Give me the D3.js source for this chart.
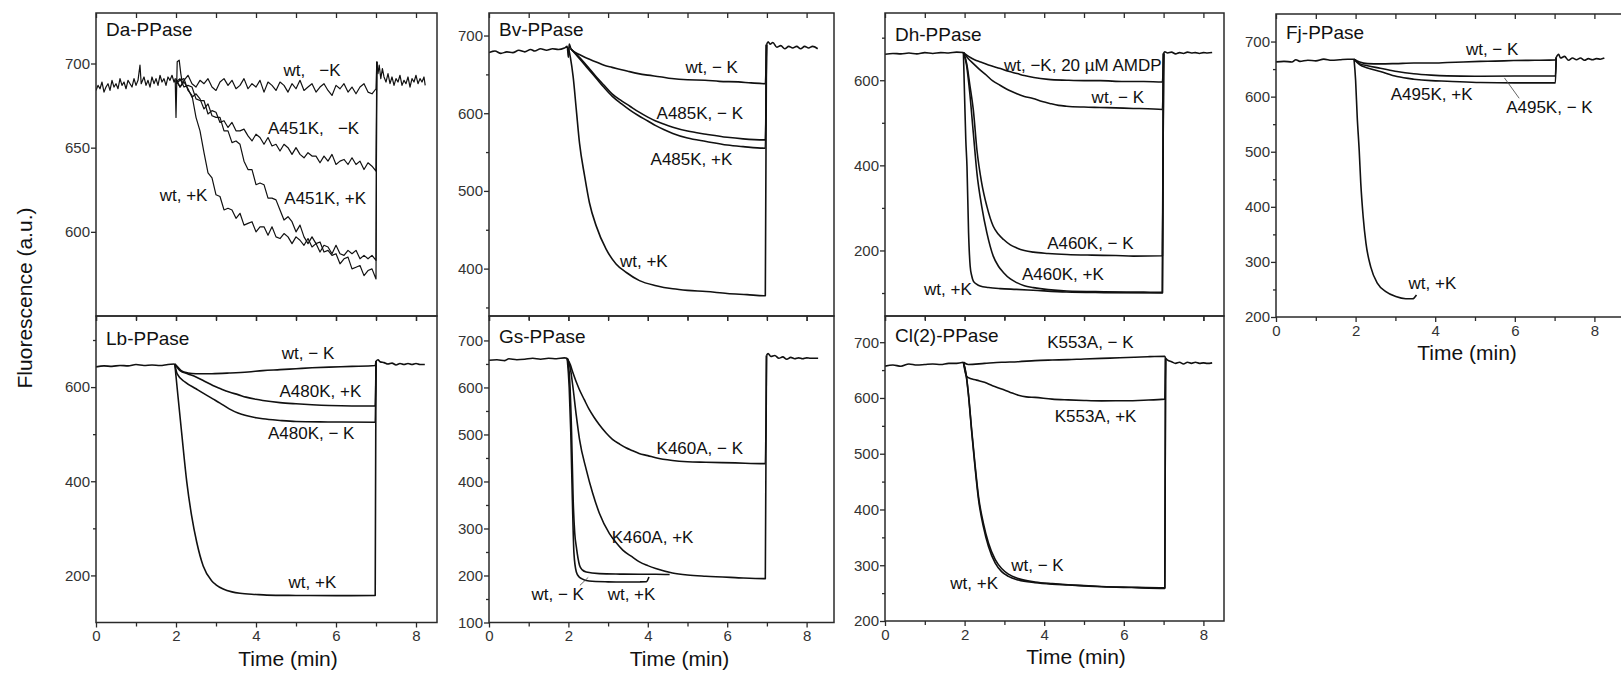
<!DOCTYPE html>
<html><head><meta charset="utf-8">
<script src="https://cdn.jsdelivr.net/npm/d3@7"></script>
<style>
body{margin:0;background:#fff;}
svg{display:block;font-family:"Liberation Sans",Arial,Helvetica,sans-serif;}
</style></head><body>
<svg id="chart" width="1621" height="675"></svg>
<script>
// ---------------- DATA (time in min, fluorescence in a.u.) ----------------
const xMajorTicks = [0, 2, 4, 6, 8];
const xMinorTicks = [1, 3, 5, 7];

// Da-PPase (noisy traces sampled every 0.1 min)
const daTimes = [2.0,2.1,2.2,2.3,2.4,2.5,2.6,2.7,2.8,2.9,3.0,3.1,3.2,3.3,3.4,3.5,3.6,3.7,3.8,3.9,4.0,4.1,4.2,4.3,4.4,4.5,4.6,4.7,4.8,4.9,5.0,5.1,5.2,5.3,5.4,5.5,5.6,5.7,5.8,5.9,6.0,6.1,6.2,6.3,6.4,6.5,6.6,6.7,6.8,6.9,7.0];
const daWtMinusK = [691,686,690,693,688,686,690,688,691,686,684,689,691,687,690,685,687,691,685,688,686,690,683,689,687,684,689,687,683,688,685,690,684,686,688,683,686,688,684,681,687,685,688,683,686,682,686,688,683,682,685];
const daA451KMinusK = [689,691,686,687,686,679,678,678,670,672,671,665,666,662,665,660,660,661,657,654,658,656,652,656,651,652,648,652,650,646,650,646,644,647,645,645,641,645,642,646,640,642,643,640,644,640,642,637,641,639,636];
const daA451KPlusK = [690,686,689,685,680,682,679,673,676,669,668,668,660,660,653,654,652,642,637,637,628,629,628,620,620,619,613,607,609,606,600,604,597,593,597,593,594,588,589,586,587,581,584,585,578,579,580,574,577,578,572];
const daWtPlusK = [688,690,691,684,681,668,660,647,635,632,622,621,613,614,613,608,611,604,605,606,600,603,603,598,603,597,596,599,597,593,597,595,592,596,591,593,588,592,591,587,592,587,586,589,587,589,584,586,584,586,583];
const daBase = [[0,684],[0.05,687],[0.1,685],[0.15,689],[0.2,683],[0.25,686],[0.3,688],[0.35,684],[0.4,690],[0.45,686],[0.5,688],[0.55,685],[0.6,691],[0.65,687],[0.7,689],[0.75,685],[0.8,690],[0.85,688],[0.9,686],[0.95,691],[1.0,687],[1.05,690],[1.1,699],[1.13,688],[1.2,692],[1.25,687],[1.3,690],[1.35,686],[1.4,692],[1.45,688],[1.5,691],[1.55,687],[1.6,693],[1.65,689],[1.7,691],[1.75,687],[1.8,692],[1.85,690],[1.9,693],[1.95,689],[1.98,691],[2.0,668],[2.03,701],[2.08,702],[2.12,694],[2.16,688]];
const daPost = [[7.02,701],[7.05,694],[7.08,699],[7.12,691],[7.16,697],[7.2,692],[7.25,689],[7.3,694],[7.35,688],[7.4,692],[7.45,687],[7.5,691],[7.55,689],[7.6,693],[7.65,687],[7.7,690],[7.75,688],[7.8,692],[7.85,686],[7.9,691],[7.95,689],[8.0,693],[8.05,688],[8.1,691],[8.15,689],[8.2,692],[8.23,687]];
const daLabels = [{text:"wt,   \u2212K",t:5.4,v:696},{text:"A451K,   \u2212K",t:5.44,v:661.7},{text:"A451K, +K",t:5.73,v:620},{text:"wt, +K",t:2.19,v:622}];

// Bv-PPase
const bvBase = [[0,678],[0.15,680],[0.3,677],[0.45,679],[0.6,678],[0.75,681],[0.9,679],[1.05,682],[1.15,680],[1.3,683],[1.45,681],[1.6,683],[1.75,682],[1.9,684],[1.97,686],[2.0,672],[2.02,689],[2.06,683]];
const bvWtMinusK = [[2.06,683],[2.12,680],[2.3,675],[2.5,670],[2.7,666],[2.9,661.6],[3.1,659],[3.34,656],[3.5,654],[3.76,651],[4.0,649],[4.3,647],[4.6,644.6],[5.0,643],[5.44,642.5],[5.8,641],[6.28,640.3],[6.6,639],[6.96,638]];
const bvA485KMinusK = [[2.06,683],[2.2,676],[2.45,662],[2.7,647],[2.9,636],[3.1,625],[3.34,616],[3.55,609],[3.76,602],[4.0,595],[4.2,590],[4.4,586],[4.63,582],[5.0,577],[5.47,573],[6.0,569],[6.4,567],[6.96,565.7]];
const bvA485KPlusK = [[2.06,683],[2.2,675],[2.45,660],[2.7,645],[2.9,633],[3.1,622],[3.34,612],[3.55,604],[3.76,597],[4.0,590],[4.2,584],[4.4,579],[4.63,574],[5.0,568],[5.47,563.6],[6.0,559],[6.4,557],[6.96,555]];
const bvWtPlusK = [[2.0,684],[2.05,672],[2.12,646.7],[2.2,604],[2.28,561.5],[2.41,518.8],[2.53,484.8],[2.7,455],[2.95,425],[3.2,406],[3.46,395],[3.79,384.5],[4.21,378],[4.63,374],[5.0,372],[5.47,370.5],[6.0,368],[6.5,366.5],[6.96,365]];
const bvPost = [[6.99,688],[7.03,692],[7.08,689],[7.15,691],[7.25,685],[7.35,687],[7.45,683],[7.55,686],[7.65,684],[7.75,686],[7.85,683],[7.95,686],[8.05,684],[8.15,686],[8.28,683]];
const bvLabels = [{text:"wt, \u2212 K",t:5.61,v:659.5},{text:"A485K, \u2212 K",t:5.31,v:600.6},{text:"A485K, +K",t:5.1,v:541},{text:"wt, +K",t:3.9,v:410}];

// Dh-PPase
const dhBase = [[0,661],[0.2,663],[0.4,662],[0.6,664],[0.8,662],[1.0,665],[1.2,663],[1.4,665],[1.6,664],[1.8,666],[1.97,665]];
const dhWtMinusKAMDP = [[1.97,665],[2.1,656],[2.25,648],[2.4,642.8],[2.6,636],[2.9,627.4],[3.1,621],[3.32,615.7],[3.5,611],[3.74,606.3],[4.1,602],[4.57,600],[5.0,599],[5.41,599],[6.0,597],[6.5,597],[6.97,596]];
const dhWtMinusK = [[1.97,665],[2.1,650],[2.22,639],[2.38,625],[2.55,611.7],[2.7,599],[2.89,588.3],[3.1,577],[3.3,568.8],[3.5,562],[3.72,557],[3.95,550],[4.14,545.5],[4.36,541],[4.56,539],[5.0,537],[5.4,536],[5.8,535],[6.24,533.7],[6.6,533],[6.97,531.4]];
const dhA460KMinusK = [[1.97,665],[2.05,640],[2.13,590],[2.22,529.8],[2.31,436],[2.43,358.4],[2.56,303.6],[2.72,256.8],[2.85,238],[2.98,225.7],[3.15,213],[3.31,206],[3.5,200],[3.73,196],[4.1,193],[4.57,190.6],[5.2,189],[5.8,188],[6.24,186.7],[6.97,187.5]];
const dhA460KPlusK = [[1.97,665],[2.05,635],[2.13,570],[2.22,475],[2.31,381.8],[2.43,303.6],[2.56,241.4],[2.72,186.7],[2.85,163],[2.98,147.8],[3.15,133],[3.31,124.4],[3.5,117],[3.73,112.7],[4.1,108],[4.57,104.8],[5.5,103],[6.5,102],[6.97,101.5]];
const dhWtPlusK = [[1.97,665],[2.0,560],[2.03,460],[2.06,397],[2.1,241],[2.14,163],[2.18,140],[2.22,128],[2.3,121],[2.39,116.5],[2.6,113],[2.89,110.4],[3.3,108.5],[3.72,106.5],[4.56,102.5],[5.5,101],[6.97,100]];
const dhPost = [[7.0,663],[7.03,667],[7.1,664],[7.2,666],[7.3,662],[7.4,665],[7.5,663],[7.6,666],[7.7,664],[7.8,665],[7.9,663],[8.0,665],[8.1,664],[8.22,665]];
const dhLabels = [{text:"wt, \u2212K, 20 \u00B5M AMDP",t:4.97,v:635},{text:"wt, \u2212 K",t:5.85,v:559.5},{text:"A460K, \u2212 K",t:5.16,v:218},{text:"A460K, +K",t:4.47,v:143.9},{text:"wt, +K",t:1.58,v:108.8}];

// Fj-PPase
const fjBase = [[0,663],[0.2,664],[0.4,663],[0.5,667],[0.6,664],[0.8,666],[1.0,665],[1.2,668],[1.4,666],[1.6,667],[1.8,668],[1.96,668]];
const fjWtMinusK = [[1.96,668],[2.1,663],[2.3,660],[2.62,659.5],[3.0,660],[3.46,661],[3.9,661],[4.3,661.9],[4.7,663],[5.13,664],[5.5,664.5],[5.97,665.5],[6.5,666],[7.02,666.8]];
const fjA495KMinusK = [[1.96,668],[2.1,660],[2.3,656],[2.62,651.6],[3.04,645.5],[3.46,641.4],[3.9,639],[4.3,637.7],[5.0,637],[6.0,637.5],[7.02,637.7]];
const fjA495KPlusK = [[1.96,668],[2.1,658],[2.3,652],[2.62,645.5],[3.04,636.4],[3.46,631.7],[3.9,629],[4.3,628],[5.13,625.6],[6.0,625],[7.02,625]];
const fjWtPlusK = [[1.96,668],[2.0,630],[2.04,564],[2.09,503],[2.13,443],[2.19,382],[2.26,334],[2.38,291],[2.55,261],[2.76,246],[3.01,237],[3.26,233],[3.43,233],[3.53,240]];
const fjPost = [[7.04,671],[7.1,677],[7.15,670],[7.25,673],[7.35,666],[7.45,670],[7.55,667],[7.65,670],[7.75,666],[7.85,669],[7.95,667],[8.05,669],[8.15,668],[8.25,670]];
const fjLabels = [{text:"wt, \u2212 K",t:5.43,v:686},{text:"A495K, +K",t:3.91,v:605},{text:"A495K, \u2212 K",t:6.87,v:581},{text:"wt, +K",t:3.93,v:262}];
const fjLeader = [[5.74,634],[6.11,597]];

// Lb-PPase
const lbBase = [[0,643],[0.2,645],[0.4,644],[0.6,646],[0.8,645],[1.0,648],[1.2,646],[1.4,647],[1.6,646],[1.8,648],[1.97,649]];
const lbWtMinusK = [[1.97,649],[2.05,642],[2.13,635],[2.3,630],[2.5,628.3],[2.9,628.5],[3.33,629.8],[3.8,632],[4.17,635],[4.6,637],[5.0,639],[5.4,641],[5.83,642.5],[6.4,644],[6.98,646]];
const lbA480KPlusK = [[1.97,649],[2.1,635],[2.3,628],[2.5,621.3],[2.7,613],[2.92,603.4],[3.1,597],[3.33,589.4],[3.55,584],[3.75,578.7],[4.0,574],[4.17,571.5],[4.6,567],[5.0,564.5],[5.4,562.5],[5.83,560.9],[6.4,560],[6.98,560]];
const lbA480KMinusK = [[1.97,649],[2.03,628],[2.23,610.6],[2.5,596.4],[2.7,586],[2.92,575],[3.1,566],[3.33,553.8],[3.55,545],[3.75,539.6],[4.0,535],[4.17,532.6],[4.6,529],[5.0,526.8],[5.8,526],[6.98,525.4]];
const lbWtPlusK = [[1.97,649],[2.05,580],[2.14,504],[2.27,398],[2.39,327],[2.52,270],[2.68,220],[2.89,188.5],[3.0,180],[3.18,171],[3.4,165],[3.6,162],[4.0,159.5],[4.27,158.2],[5.0,157.5],[6.0,157],[6.98,157.4]];
const lbPost = [[7.0,655],[7.05,658],[7.1,654],[7.2,652],[7.3,649],[7.4,651],[7.5,647],[7.6,650],[7.7,648],[7.8,650],[7.9,648],[8.0,650],[8.1,648],[8.22,648]];
const lbLabels = [{text:"wt, \u2212 K",t:5.3,v:673},{text:"A480K, +K",t:5.61,v:590.6},{text:"A480K, \u2212 K",t:5.38,v:502},{text:"wt, +K",t:5.41,v:185}];

// Gs-PPase
const gsBase = [[0,658],[0.2,659],[0.4,657],[0.5,661],[0.7,659],[0.9,660],[1.1,662],[1.3,660],[1.5,662],[1.7,661],[1.9,663],[1.97,662]];
const gsK460AMinusK = [[1.97,662],[2.05,648],[2.11,632.3],[2.27,596.6],[2.4,574],[2.52,553.8],[2.65,536],[2.77,521.6],[2.95,503],[3.11,489.5],[3.3,479],[3.45,471.7],[3.6,466],[3.78,459.5],[4.0,455],[4.2,450.3],[4.62,444.5],[5.0,442],[5.46,441],[6.2,439.5],[6.96,438]];
const gsK460APlusK = [[1.97,662],[2.05,640],[2.11,603.6],[2.2,539.4],[2.28,489.5],[2.45,425.3],[2.61,375.4],[2.78,332.5],[3.03,289.7],[3.2,270],[3.37,253.9],[3.6,240],[3.79,228.9],[4.0,221],[4.2,214.8],[4.62,205.4],[5.0,201],[5.46,198.3],[6.2,195.5],[6.96,193.3]];
const gsWtMinusK = [[1.97,662],[2.03,620],[2.08,504],[2.12,361],[2.16,290],[2.2,261],[2.28,222],[2.35,212],[2.45,207.5],[2.78,204],[3.3,203],[3.79,202.6],[4.2,202.5],[4.55,202]];
const gsWtPlusK = [[1.97,662],[2.02,600],[2.06,504],[2.1,361],[2.14,247],[2.2,207.5],[2.27,197],[2.33,193.3],[2.52,188.2],[3.0,186.5],[3.37,186],[3.8,186.3],[3.96,186.7],[4.03,196.8]];
const gsPost = [[6.99,668],[7.03,672],[7.1,666],[7.2,668],[7.3,662],[7.4,665],[7.5,660],[7.6,664],[7.7,661],[7.8,663],[7.9,661],[8.0,663],[8.1,662],[8.29,662]];
const gsLabels = [{text:"K460A, \u2212 K",t:5.31,v:471.7},{text:"K460A, +K",t:4.12,v:282.5},{text:"wt, \u2212 K",t:1.73,v:161},{text:"wt, +K",t:3.59,v:161}];
const gsLeader = [[2.29,179],[2.5,196]];

// Cl(2)-PPase
const clBase = [[0,657],[0.2,659],[0.4,657],[0.6,661],[0.8,659],[1.0,660],[1.2,661],[1.4,660],[1.6,662],[1.8,662],[1.97,664]];
const clK553AMinusK = [[1.97,664],[2.09,660],[2.5,662],[2.93,664],[3.35,665],[3.77,667],[4.2,668],[4.6,668.7],[5.0,670],[5.44,671],[5.9,672],[6.28,673],[6.6,674],[7.03,674.8]];
const clK553APlusK = [[1.97,664],[2.04,640],[2.08,636.9],[2.3,632],[2.5,628],[2.7,622],[2.93,616],[3.15,610],[3.35,605],[3.55,602],[3.77,601],[4.2,598],[4.6,596.6],[5.0,595.5],[5.44,594.8],[6.0,595],[6.5,596],[7.03,598]];
const clWtPlusK = [[1.97,664],[2.04,640],[2.09,610],[2.18,537.8],[2.26,477.7],[2.35,417.6],[2.47,369.6],[2.6,333.5],[2.77,303.6],[2.93,288.5],[3.1,280],[3.35,273.5],[3.77,268.7],[4.2,266],[4.6,264.5],[5.0,263],[5.44,261.5],[6.2,260],[7.03,258.6]];
const clWtMinusK = [[1.97,664],[2.04,642],[2.09,612],[2.18,541],[2.26,482],[2.35,423],[2.47,376],[2.6,340],[2.77,310],[2.93,294],[3.1,284],[3.35,276],[3.77,270],[4.2,267],[4.6,265],[5.0,263.5],[5.44,262],[6.2,260.5],[7.03,259.5]];
const clPost = [[7.05,671],[7.1,668],[7.2,665],[7.3,662],[7.4,664],[7.5,661],[7.6,664],[7.7,662],[7.8,664],[7.9,662],[8.0,663],[8.1,662],[8.22,663]];
const clLabels = [{text:"K553A, \u2212 K",t:5.16,v:700},{text:"K553A, +K",t:5.29,v:566.7},{text:"wt, \u2212 K",t:3.83,v:300.5},{text:"wt, +K",t:2.24,v:267.6}];

// ---------------- PANEL CONFIG ----------------
const daTrace = vals => daTimes.map((t,i)=>[t, vals[i]]);
const panels = [
 {id:"da", title:"Da-PPase", left:96, right:437, top:13, bottom:316, pxPerMin:40, yDom:[550,730],
  yMajor:[600,650,700], yMinor:[], xLabels:false, titleDy:16, curve:d3.curveLinear, lw:1.2,
  base:daBase, post:daPost, traces:[daTrace(daWtMinusK),daTrace(daA451KMinusK),daTrace(daA451KPlusK),daTrace(daWtPlusK)], labels:daLabels, leaders:[]},
 {id:"bv", title:"Bv-PPase", left:489, right:834, top:13, bottom:316, pxPerMin:39.7, yDom:[339,729],
  yMajor:[400,500,600,700], yMinor:[350,450,550,650], xLabels:false, titleDy:16, curve:d3.curveMonotoneX, lw:1.6,
  base:bvBase, post:bvPost, traces:[bvWtMinusK,bvA485KMinusK,bvA485KPlusK,bvWtPlusK], labels:bvLabels, leaders:[]},
 {id:"dh", title:"Dh-PPase", left:885, right:1224, top:13, bottom:316, pxPerMin:39.8, yDom:[46,758],
  yMajor:[200,400,600], yMinor:[100,300,500,700], xLabels:false, titleDy:21, curve:d3.curveMonotoneX, lw:1.6,
  base:dhBase, post:dhPost, traces:[dhWtMinusKAMDP,dhWtMinusK,dhA460KMinusK,dhA460KPlusK,dhWtPlusK], labels:dhLabels, leaders:[]},
 {id:"fj", title:"Fj-PPase", left:1276, right:1622, top:14, bottom:317, pxPerMin:39.8, yDom:[200,750],
  yMajor:[200,300,400,500,600,700], yMinor:[250,350,450,550,650], xLabels:true, titleDy:18, curve:d3.curveMonotoneX, lw:1.6,
  base:fjBase, post:fjPost, traces:[fjWtMinusK,fjA495KMinusK,fjA495KPlusK], extra:[fjWtPlusK], labels:fjLabels, leaders:[fjLeader]},
 {id:"lb", title:"Lb-PPase", left:96, right:437, top:316, bottom:622.5, pxPerMin:40, yDom:[100,751],
  yMajor:[200,400,600], yMinor:[300,500,700], xLabels:true, titleDy:22, curve:d3.curveMonotoneX, lw:1.6,
  base:lbBase, post:lbPost, traces:[lbWtMinusK,lbA480KPlusK,lbA480KMinusK,lbWtPlusK], labels:lbLabels, leaders:[]},
 {id:"gs", title:"Gs-PPase", left:489, right:834, top:316, bottom:622.5, pxPerMin:39.7, yDom:[100,752],
  yMajor:[100,200,300,400,500,600,700], yMinor:[150,250,350,450,550,650], xLabels:true, titleDy:20, curve:d3.curveMonotoneX, lw:1.6,
  base:gsBase, post:gsPost, traces:[gsK460AMinusK,gsK460APlusK], extra:[gsWtMinusK,gsWtPlusK], labels:gsLabels, leaders:[gsLeader]},
 {id:"cl", title:"Cl(2)-PPase", left:885, right:1224, top:316, bottom:621, pxPerMin:39.8, yDom:[200,747],
  yMajor:[200,300,400,500,600,700], yMinor:[250,350,450,550,650], xLabels:true, titleDy:19, curve:d3.curveMonotoneX, lw:1.6,
  base:clBase, post:clPost, traces:[clK553AMinusK,clK553APlusK,clWtPlusK,clWtMinusK], labels:clLabels, leaders:[]}
];

// ---------------- DRAW ----------------
const svg = d3.select("#chart");
svg.append("rect").attr("width",1621).attr("height",675).attr("fill","#fff");
const INK = "#111", AX = "#2a2a2a";

panels.forEach(p => {
  const xMax = (p.right - p.left) / p.pxPerMin;
  const x = d3.scaleLinear().domain([0, xMax]).range([p.left, p.right]);
  const y = d3.scaleLinear().domain(p.yDom).range([p.bottom, p.top]);
  const g = svg.append("g").attr("class","panel-"+p.id);

  svg.append("clipPath").attr("id","clip-"+p.id).append("rect")
    .attr("x",p.left).attr("y",p.top).attr("width",p.right-p.left).attr("height",p.bottom-p.top);

  const line = d3.line().x(d=>x(d[0])).y(d=>y(d[1])).curve(p.curve);
  const plot = g.append("g").attr("clip-path","url(#clip-"+p.id+")");

  const strokeIt = sel => sel.attr("fill","none").attr("stroke",INK).attr("stroke-width",p.lw).attr("stroke-linejoin","round");
  plot.append("path").datum(p.base).attr("d",line).call(strokeIt);
  p.traces.forEach(tr => {
    plot.append("path").datum(tr.concat([p.post[0]])).attr("d",line).call(strokeIt);
  });
  (p.extra||[]).forEach(tr => plot.append("path").datum(tr).attr("d",line).call(strokeIt));
  plot.append("path").datum(p.post).attr("d",line).call(strokeIt);

  p.leaders.forEach(ld => plot.append("path").datum(ld)
    .attr("d", d3.line().x(d=>x(d[0])).y(d=>y(d[1])))
    .attr("stroke","#555").attr("stroke-width",0.9).attr("fill","none"));

  g.selectAll("text.lbl").data(p.labels).join("text").attr("class","lbl")
    .attr("x",d=>x(d.t)).attr("y",d=>y(d.v)).attr("dy","0.35em")
    .attr("text-anchor","middle").attr("font-size",17).attr("fill",INK)
    .style("white-space","pre").text(d=>d.text);

  g.append("text").attr("x",p.left+10).attr("y",p.top+p.titleDy).attr("dy","0.35em")
    .attr("font-size",19).attr("fill",INK).text(p.title);

  const styleAxis = sel => {
    sel.select(".domain").remove();
    sel.selectAll("line").attr("stroke",AX).attr("stroke-width",1.3);
    sel.selectAll("text").attr("font-size",15).attr("fill","#333")
      .attr("font-family",'"Liberation Sans",Arial,sans-serif');
  };
  g.append("g").attr("transform",`translate(${p.left},0)`)
    .call(d3.axisLeft(y).tickValues(p.yMajor).tickSize(5).tickPadding(1).tickFormat(d3.format("d")))
    .call(styleAxis);
  if (p.yMinor.length) g.append("g").attr("transform",`translate(${p.left},0)`)
    .call(d3.axisLeft(y).tickValues(p.yMinor).tickSize(3).tickFormat(""))
    .call(styleAxis);
  g.append("g").attr("transform",`translate(0,${p.bottom})`)
    .call(d3.axisBottom(x).tickValues(xMajorTicks).tickSize(5).tickPadding(3).tickFormat(p.xLabels ? d3.format("d") : ""))
    .call(styleAxis);
  g.append("g").attr("transform",`translate(0,${p.bottom})`)
    .call(d3.axisBottom(x).tickValues(xMinorTicks).tickSize(4).tickFormat(""))
    .call(styleAxis);
  g.append("g").attr("transform",`translate(0,${p.top})`)
    .call(d3.axisBottom(x).tickValues(xMajorTicks.concat(xMinorTicks)).tickSize(5).tickFormat(""))
    .call(styleAxis);

  g.append("rect").attr("x",p.left).attr("y",p.top)
    .attr("width",p.right-p.left).attr("height",p.bottom-p.top)
    .attr("fill","none").attr("stroke",AX).attr("stroke-width",1.5);

  if (p.xLabels) {
    g.append("text").attr("x",x(4.8)).attr("y",p.bottom+36).attr("dy","0.35em")
      .attr("text-anchor","middle").attr("font-size",21).attr("fill",INK).text("Time (min)");
  }
});

svg.append("text").attr("transform","translate(25,298) rotate(-90)").attr("dy","0.35em")
  .attr("text-anchor","middle").attr("font-size",21).attr("fill",INK).text("Fluorescence (a.u.)");
</script>
</body></html>
